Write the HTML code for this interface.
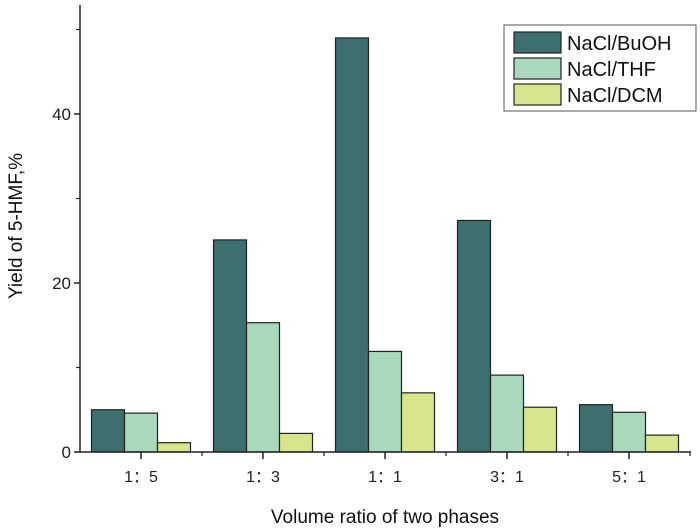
<!DOCTYPE html>
<html><head><meta charset="utf-8"><style>
body{margin:0;background:#fff;}
svg{display:block;font-family:"Liberation Sans","Noto Sans CJK SC",sans-serif;}
</style></head><body>
<svg width="700" height="531">
<g id="plot"></g>
</svg>
<script>
const categories=["1：5","1：3","1：1","3：1","5：1"];
const seriesNames=["NaCl/BuOH","NaCl/THF","NaCl/DCM"];
const buoh=[5.0,25.1,49.0,27.4,5.6];
const thf=[4.6,15.3,11.9,9.1,4.7];
const dcm=[1.1,2.2,7.0,5.3,2.0];
const yTicks=[0,20,40];
const yMinor=[10,30,50];
const colors=["#3e6f6f","#a9d8ba","#d9e58d"];
const series=[buoh,thf,dcm];
const NS="http://www.w3.org/2000/svg";
const g=document.getElementById('plot');
const x0=80,y0=452,ppu=8.45,gw=122,bw=33,xStart=80;
const y=v=>y0-v*ppu;
const cx=i=>xStart+gw*(i+0.5);
function mk(t,a,p){const e=document.createElementNS(NS,t);for(const k in a)e.setAttribute(k,a[k]);(p||g).appendChild(e);return e;}
series.forEach((s,si)=>{s.forEach((v,i)=>{
const r=mk('rect',{x:cx(i)-1.5*bw+si*bw,y:y(v),width:bw,height:v*ppu,fill:colors[si],stroke:'#222','stroke-width':1.2});


});});
let a=mk('line',{x1:x0,y1:5,x2:x0,y2:y0,stroke:'#222','stroke-width':1.5});

a=mk('line',{x1:x0,y1:y0,x2:691,y2:y0,stroke:'#222','stroke-width':1.5});

yTicks.forEach(t=>{mk('line',{x1:x0-6,y1:y(t),x2:x0,y2:y(t),stroke:'#222','stroke-width':1.5});
const tx=mk('text',{x:x0-9,y:y(t)+6,'text-anchor':'end','font-size':17,fill:'#222'});tx.textContent=t;
});
yMinor.forEach(t=>mk('line',{x1:x0-4,y1:y(t),x2:x0,y2:y(t),stroke:'#222','stroke-width':1.2}));
categories.forEach((c,i)=>{mk('line',{x1:cx(i),y1:y0,x2:cx(i),y2:y0+7,stroke:'#222','stroke-width':1.5});
mk('line',{x1:cx(i)+gw/2,y1:y0,x2:cx(i)+gw/2,y2:y0+4,stroke:'#222','stroke-width':1.2});
const tx=mk('text',{x:cx(i),y:y0+30,'text-anchor':'middle','font-size':16,fill:'#222'});tx.textContent=c;
});
let t=mk('text',{x:385,y:523,'text-anchor':'middle','font-size':19,fill:'#111'});t.textContent='Volume ratio of two phases';

t=mk('text',{x:0,y:0,transform:'translate(22,226) rotate(-90)','text-anchor':'middle','font-size':19,fill:'#111'});t.textContent='Yield of 5-HMF,%';

const lg=mk('g',{});
mk('rect',{x:504,y:25,width:192,height:86,fill:'#fff',stroke:'#555','stroke-width':1},lg);
seriesNames.forEach((n,i)=>{const yy=32+i*26;
const sw=mk('rect',{x:514,y:yy,width:47,height:21,fill:colors[i],stroke:'#222','stroke-width':1.2},lg);

const tx=mk('text',{x:567,y:yy+18,'font-size':20,fill:'#111'},lg);tx.textContent=n;
});
</script>
</body></html>
